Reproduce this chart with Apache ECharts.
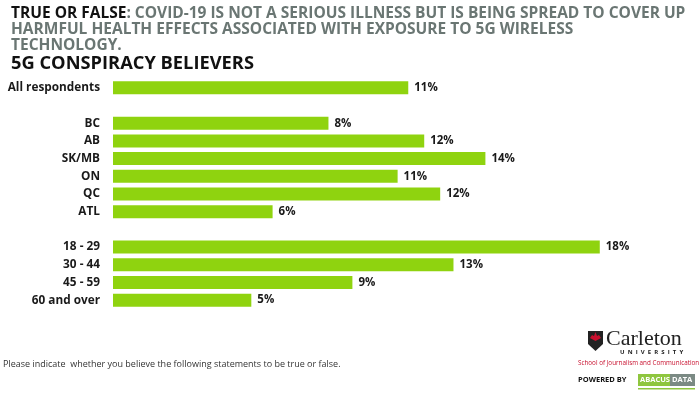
<!DOCTYPE html>
<html>
<head>
<meta charset="utf-8">
<script src="https://cdn.jsdelivr.net/npm/echarts@6/dist/echarts.min.js"></script>
<style>
html, body { margin: 0; padding: 0; background: #fff; }
#chart { width: 700px; height: 396px; }
</style>
</head>
<body>
<div id="chart"></div>
<script>
// categories, top to bottom (blank ones are the gaps between groups)
var categories = ['All respondents', '', 'BC', 'AB', 'SK/MB', 'ON', 'QC', 'ATL', ' ', '18 - 29', '30 - 44', '45 - 59', '60 and over'];
// share of 5G conspiracy believers, %
var believers = [11.1, null, 8.1, 11.7, 14.0, 10.7, 12.3, 6.0, null, 18.3, 12.8, 9.0, 5.2];

var titleLead = 'TRUE OR FALSE';
var titleLines = [
    ': COVID-19 IS NOT A SERIOUS ILLNESS BUT IS BEING SPREAD TO COVER UP',
    'HARMFUL HEALTH EFFECTS ASSOCIATED WITH EXPOSURE TO 5G WIRELESS',
    'TECHNOLOGY.'
];
var subTitle = '5G CONSPIRACY BELIEVERS';
var footNote = 'Please indicate  whether you believe the following statements to be true or false.';

var font = '"Open Sans", sans-serif';
var myChart = echarts.init(document.getElementById('chart'));

var option = {
    backgroundColor: '#fff',
    animation: false,
    title: {
        left: 6,
        top: 0,
        text: '{a|' + titleLead + '}{b|' + titleLines[0] + '}\n{b|' + titleLines[1] + '}\n{b|' + titleLines[2] + '}\n{c|' + subTitle + '}',
        textStyle: {
            rich: {
                a: { fontFamily: font, fontWeight: 'bold', fontSize: 15.5, color: '#111', lineHeight: 16.3 },
                b: { fontFamily: font, fontWeight: 'bold', fontSize: 15.5, color: '#6a7673', lineHeight: 16.3 },
                c: { fontFamily: font, fontWeight: 'bold', fontSize: 18.3, color: '#111', lineHeight: 20 }
            }
        }
    },
    grid: {
        left: 113,
        width: 532,
        top: 79,
        height: 230,
        containLabel: false
    },
    xAxis: {
        type: 'value',
        min: 0,
        max: 20,
        show: false
    },
    yAxis: {
        type: 'category',
        inverse: true,
        data: categories,
        axisLine: { show: false },
        axisTick: { show: false },
        axisLabel: {
            margin: 13,
            fontFamily: font,
            fontWeight: 'bold',
            fontSize: 11.8,
            color: '#1a1a1a'
        }
    },
    series: [{
        type: 'bar',
        data: believers,
        barWidth: 13,
        itemStyle: { color: '#8fd30f' },
        label: {
            show: true,
            position: 'right',
            distance: 6,
            fontFamily: font,
            fontWeight: 'bold',
            fontSize: 11.5,
            color: '#1a1a1a',
            formatter: function (p) {
                return p.value == null ? '' : Math.round(p.value) + '%';
            }
        }
    }],
    graphic: [{
        type: 'text',
        left: 3,
        top: 360,
        style: { text: footNote, fontFamily: font, fontSize: 9, fill: '#333' }
    }, {
        // shield
        type: 'polygon',
        shape: { points: [[588, 331], [603, 331], [603, 344], [595.5, 351], [588, 344]] },
        style: { fill: '#222' }
    }, {
        type: 'polygon',
        shape: { points: [[590, 338], [592, 335], [594, 336], [595.5, 332], [597, 336], [599, 335], [601, 338], [595.5, 341]] },
        style: { fill: '#c8102e' }
    }, {
        type: 'text',
        left: 606,
        top: 328,
        style: { text: 'Carleton', fontFamily: '"Liberation Serif", serif', fontSize: 22, fill: '#222' }
    }, {
        type: 'text',
        left: 620,
        top: 349,
        style: { text: 'U  N  I  V  E  R  S  I  T  Y', fontFamily: font, fontWeight: 'bold', fontSize: 6, fill: '#222' }
    }, {
        type: 'text',
        left: 578,
        top: 360,
        style: { text: 'School of Journalism and Communication', fontFamily: font, fontSize: 6.3, fill: '#c8102e' }
    }, {
        type: 'text',
        left: 578,
        top: 376,
        style: { text: 'POWERED BY', fontFamily: font, fontWeight: 'bold', fontSize: 7.5, fill: '#111' }
    }, {
        type: 'rect',
        shape: { x: 638, y: 374, width: 32, height: 12 },
        style: { fill: '#8fc63f' }
    }, {
        type: 'rect',
        shape: { x: 670, y: 374, width: 25, height: 12 },
        style: { fill: '#7b8a84' }
    }, {
        type: 'text',
        left: 640,
        top: 376,
        style: { text: 'ABACUS', fontFamily: font, fontWeight: 'bold', fontSize: 7.5, fill: '#fff' }
    }, {
        type: 'text',
        left: 672,
        top: 376,
        style: { text: 'DATA', fontFamily: font, fontWeight: 'bold', fontSize: 7.5, fill: '#fff' }
    }, {
        type: 'rect',
        shape: { x: 638, y: 388, width: 57, height: 1.5 },
        style: { fill: '#8fc63f' }
    }]
};

myChart.setOption(option);
</script>
</body>
</html>
